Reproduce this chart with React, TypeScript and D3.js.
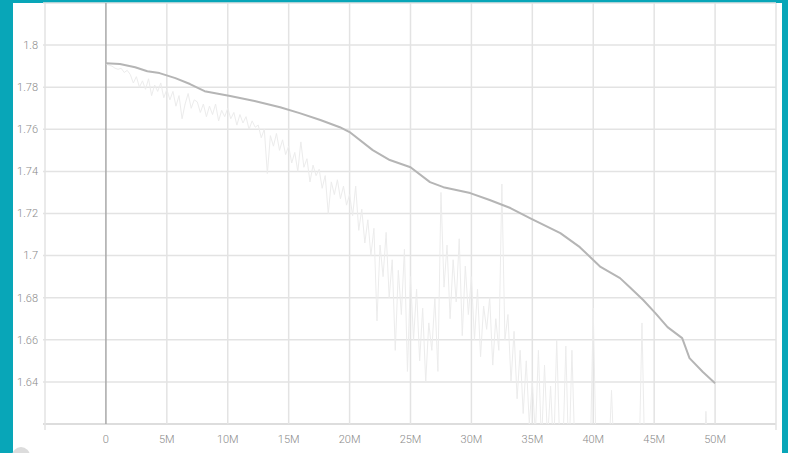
import React from 'react';
import * as d3 from 'd3';

// smoothed curve: [step, value]
const smoothSteps = [0, 1.15e6, 2.4e6, 3.4e6, 4.4e6, 5.7e6, 6.9e6, 8.1e6, 10.2e6, 12.2e6, 14.3e6, 15.9e6, 17.6e6, 19.2e6, 20e6, 21.9e6, 23.3e6, 25e6, 26.6e6, 27.7e6, 29.9e6, 31.5e6, 33.2e6, 34.8e6, 37.3e6, 38.9e6, 40.6e6, 42.2e6, 43e6, 44.1e6, 45.1e6, 46.1e6, 47.3e6, 47.9e6, 49e6, 50e6];
const smoothValues = [1.7914, 1.791, 1.7895, 1.7876, 1.7867, 1.7843, 1.7815, 1.7781, 1.7758, 1.7734, 1.7705, 1.7677, 1.7644, 1.761, 1.7587, 1.7501, 1.7454, 1.742, 1.7349, 1.7325, 1.7297, 1.7264, 1.7226, 1.7178, 1.7107, 1.704, 1.6946, 1.6893, 1.685, 1.6789, 1.6727, 1.666, 1.6608, 1.6513, 1.6447, 1.6394];

// raw values, one every 250k steps from 0 to 50M
const rawStep = 0.25e6;
const rawValues = [
  1.791, 1.7905, 1.79, 1.789, 1.7885, 1.789, 1.787, 1.788,
  1.786, 1.782, 1.785, 1.78,
  1.783, 1.779, 1.784, 1.776, 1.781, 1.778, 1.782, 1.775,
  1.779, 1.774, 1.778, 1.771, 1.776, 1.765, 1.772, 1.777, 1.77, 1.774,
  1.773, 1.768, 1.772, 1.766, 1.771, 1.767, 1.772, 1.764, 1.769, 1.766,
  1.77, 1.765, 1.768, 1.762, 1.767, 1.763, 1.766, 1.76, 1.764, 1.761,
  1.762, 1.756, 1.76, 1.739, 1.757, 1.752, 1.758, 1.75, 1.755, 1.748,
  1.752, 1.744, 1.749, 1.74, 1.754, 1.742, 1.746, 1.735, 1.743, 1.738,
  1.741, 1.732, 1.738, 1.72, 1.735, 1.729, 1.736, 1.727, 1.733, 1.724,
  1.729, 1.719, 1.733, 1.712, 1.722, 1.706, 1.717, 1.7, 1.713, 1.669,
  1.705, 1.69, 1.711, 1.68, 1.698, 1.655, 1.693, 1.672, 1.703, 1.645,
  1.69, 1.66, 1.684, 1.65, 1.675, 1.64, 1.668, 1.655, 1.68, 1.645,
  1.73, 1.685, 1.705, 1.67, 1.698, 1.678, 1.708, 1.662, 1.695, 1.672,
  1.69, 1.66, 1.684, 1.652, 1.676, 1.665, 1.68, 1.648, 1.67, 1.655,
  1.734, 1.66, 1.672, 1.64, 1.664, 1.632, 1.655, 1.625, 1.65, 1.62,
  1.64, 1.615, 1.655, 1.61, 1.648, 1.612, 1.638, 1.605, 1.66, 1.61,
  1.606, 1.657, 1.6, 1.655, 1.605, 1.598, 1.61, 1.6, 1.595, 1.602,
  1.675, 1.6, 1.598, 1.604, 1.595, 1.6, 1.636, 1.597, 1.602, 1.594,
  1.598, 1.602, 1.596, 1.6, 1.594, 1.598, 1.668, 1.596, 1.6, 1.595,
  1.598, 1.593, 1.6, 1.596, 1.592, 1.597, 1.594, 1.599, 1.593, 1.596,
  1.592, 1.597, 1.594, 1.598, 1.593, 1.596, 1.595, 1.626, 1.594, 1.597,
  1.596,
];

const xTicks = [-5e6, 0, 5e6, 10e6, 15e6, 20e6, 25e6, 30e6, 35e6, 40e6, 45e6, 50e6, 55e6];
const yGrid = [1.62, 1.64, 1.66, 1.68, 1.7, 1.72, 1.74, 1.76, 1.78, 1.8, 1.82];
const yLabels = [1.64, 1.66, 1.68, 1.7, 1.72, 1.74, 1.76, 1.78, 1.8];

const W = 788;
const H = 453;

export default function App() {
  const x = d3.scaleLinear().domain([-5e6, 55e6]).range([45, 776]);
  const y = d3.scaleLinear().domain([1.62, 1.82]).range([424, 3]);

  const smooth = smoothSteps.map((s, i) => [s, smoothValues[i]] as [number, number]);
  const raw = rawValues.map((v, i) => [i * rawStep, v] as [number, number]);

  const line = d3.line<[number, number]>().x(d => x(d[0])).y(d => y(d[1]));

  const fmtX = (d: number) => (d === 0 ? '0' : `${d / 1e6}M`);
  const fmtY = d3.format('~g');

  const font = { fontFamily: 'Roboto, sans-serif', fontWeight: 300, fontSize: 11, fill: '#8a8a8a' };

  return (
    <svg width={W} height={H} style={{ position: 'absolute', left: 0, top: 0, display: 'block' }}>
      <rect x={0} y={0} width={W} height={H} fill="#08a6b8" />
      <rect x={13} y={3} width={769} height={H - 3} fill="#ffffff" />
      <circle cx={21} cy={456} r={9} fill="#dcdcdc" />
      <defs>
        <clipPath id="plot">
          <rect x={45} y={3} width={731} height={421} />
        </clipPath>
      </defs>
      {yGrid.map(v => (
        <line key={'h' + v} x1={43} x2={776} y1={y(v)} y2={y(v)}
          stroke={v === 1.62 ? '#d2d2d2' : '#e3e3e3'} strokeWidth={1.5} />
      ))}
      {xTicks.map(t => (
        <line key={'v' + t} x1={x(t)} x2={x(t)} y1={3} y2={t === -5e6 || t === 55e6 ? 430 : 424}
          stroke={t === 0 ? '#a8a8a8' : '#e3e3e3'} strokeWidth={1.5} />
      ))}
      <g clipPath="url(#plot)">
        <path d={line(raw) || ''} fill="none" stroke="#ececec" strokeWidth={1} />
        <path d={line(smooth) || ''} fill="none" stroke="#b5b5b5" strokeWidth={2} strokeLinejoin="round" />
      </g>
      {yLabels.map(v => (
        <text key={'yl' + v} x={38} y={y(v)} dy="0.35em" textAnchor="end" style={font}>{fmtY(v)}</text>
      ))}
      {xTicks.filter(t => t >= 0 && t <= 50e6).map(t => (
        <text key={'xl' + t} x={x(t)} y={443} textAnchor="middle" style={font}>{fmtX(t)}</text>
      ))}
    </svg>
  );
}
